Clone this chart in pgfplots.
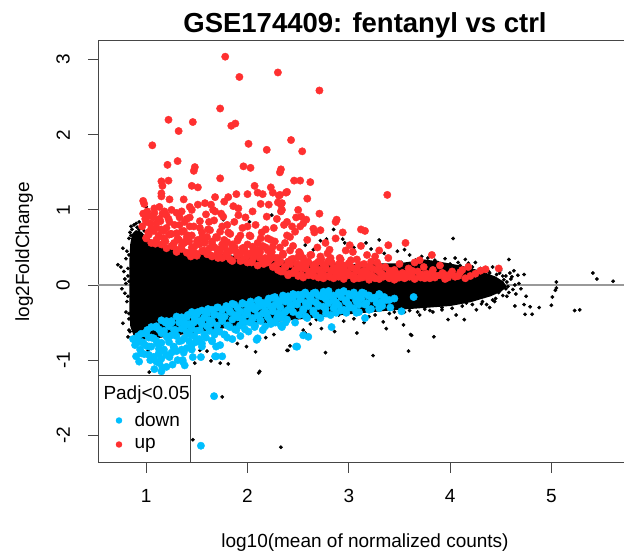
\documentclass[border=0pt]{standalone}
\usepackage{graphicx}
\usepackage{pgfplots}
\pgfplotsset{compat=1.18}
\usepackage{fontspec}
\setmainfont{Liberation Sans}
\definecolor{upred}{RGB}{255,48,48}
\definecolor{downblue}{RGB}{0,191,255}
\definecolor{frame}{RGB}{70,70,70}
\newcommand{\fnt}{\fontsize{19}{21}\selectfont}
\newcommand{\rt}[1]{\rotatebox{90}{#1}}
\begin{document}
\begin{tikzpicture}[x=1pt,y=1pt]
\useasboundingbox (0,0) rectangle (624,554);
\clip (0,0) rectangle (624,554);
\begin{axis}[
  at={(98pt,91pt)}, anchor=south west,
  scale only axis, width=534pt, height=422pt,
  xmin=0.524, xmax=5.796, ymin=-2.370, ymax=3.249,
  axis line style={draw=frame, line width=1pt},
  xtick={1,2,3,4,5}, xticklabels={1,2,3,4,5},
  ytick={-2,-1,0,1,2,3}, yticklabels={\rt{-2},\rt{-1},\rt{0},\rt{1},\rt{2},\rt{3}},
  xtick pos=bottom, ytick pos=left,
  tick align=outside, major tick length=10pt,
  tick style={draw=frame, line width=1pt},
  tick label style={font=\fnt},
  xticklabel style={anchor=base},
  xticklabel shift=30pt,
  yticklabel style={anchor=east, inner sep=0pt},
  yticklabel shift=18pt,
  legend cell align=left,
  legend style={at={(0,0)}, anchor=south west, draw=frame, line width=1pt, fill=white,
    inner xsep=1pt, inner ysep=4pt, row sep=1pt, font=\fnt,
    nodes={inner sep=0pt, text height=14pt, text depth=5pt},
    /tikz/every odd column/.append style={column sep=8pt}},
]
\addplot[forget plot, draw=black!40, line width=1.8pt] coordinates {(0.4,0) (6,0)};
% dense core of non-significant genes
\addplot[forget plot, fill=black, draw=black, line width=1.5pt, line join=round] coordinates {
(0.84,0.30) (0.85,0.55) (0.87,0.68) (0.90,0.72) (0.95,0.70) (1.00,0.62) (1.10,0.56) (1.30,0.48)
(1.60,0.42) (2.00,0.36) (2.50,0.30) (3.00,0.27) (3.50,0.28) (3.75,0.33) (3.90,0.30) (4.10,0.25)
(4.30,0.18) (4.45,0.10) (4.52,0.04) (4.55,-0.02)
(4.50,-0.08) (4.40,-0.14) (4.20,-0.22) (4.00,-0.27) (3.70,-0.30) (3.40,-0.33) (3.00,-0.38) (2.50,-0.45)
(2.00,-0.52) (1.60,-0.60) (1.30,-0.66) (1.10,-0.70) (0.95,-0.72) (0.88,-0.66) (0.85,-0.55) (0.84,-0.30)
} -- cycle;
% scattered non-significant genes
\addplot[forget plot, only marks, mark=*, mark size=1.7pt, mark options={draw=none, fill=black}] coordinates {
(0.72,0.27) (0.75,0.24) (0.77,0.49) (0.85,0.78) (0.80,0.35) (0.82,0.12) (0.79,-0.11) (0.80,0.02)
(0.80,-0.36) (0.77,-0.51) (0.82,-0.69) (0.83,0.62) (0.81,-0.22) (0.78,0.18) (0.83,-0.45) (0.84,0.70)
(0.76,-0.05) (0.81,0.45) (0.83,-0.60) (0.79,0.08)
(0.86,0.74) (0.88,0.80) (0.91,0.77) (0.93,0.84) (0.96,0.76) (0.98,0.72) (0.87,0.62) (0.85,0.66)
(0.83,0.40) (0.82,0.22) (0.83,0.05) (0.82,-0.15) (0.83,-0.38) (0.84,-0.62) (0.86,-0.72) (0.88,-0.76)
(0.90,0.82) (0.93,0.74)
(1.00,1.04) (1.76,0.87) (2.02,0.84) (2.24,0.93) (2.85,0.74) (2.94,0.61) (3.17,0.56) (4.03,0.62)
(2.78,0.61) (2.72,0.59) (2.57,0.53) (2.65,0.47) (3.05,0.50) (3.22,0.48) (3.35,0.42) (3.48,0.45)
(3.60,0.40) (3.72,0.38) (3.85,0.33) (3.95,0.35) (4.08,0.30) (4.15,0.34) (3.30,0.60) (3.55,0.47)
(2.96,0.56) (3.52,0.30) (3.66,0.33) (3.78,0.36) (3.88,0.30) (4.00,0.28) (4.10,0.26) (4.22,0.24)
(4.30,0.22) (4.38,0.18) (4.46,0.14) (4.55,0.12) (4.42,0.24) (4.05,0.36) (4.25,0.30)
(4.58,0.34) (4.59,0.16) (4.67,0.13) (4.73,0.14) (4.64,0.00) (5.05,0.04) (5.04,-0.07) (5.05,-0.04)
(5.41,0.16) (5.45,0.08) (5.61,0.05) (4.65,-0.12) (4.75,-0.15) (4.64,-0.28) (4.73,-0.26) (4.74,-0.39)
(4.81,-0.39) (4.79,-0.29) (4.88,-0.30) (5.00,-0.27) (5.01,-0.16) (5.23,-0.34) (5.28,-0.33) (4.39,-0.30)
(4.56,0.04) (4.51,0.00) (4.44,0.09) (4.39,0.16) (4.33,0.07) (4.48,-0.10) (4.55,-0.05) (4.60,0.08)
(4.52,0.12) (4.45,-0.18) (4.50,0.20) (4.62,-0.06) (4.35,-0.12) (4.42,0.05) (4.47,-0.03) (4.53,0.07)
(4.57,-0.02) (4.40,-0.08) (4.68,0.02) (4.70,-0.05) (4.61,0.11) (4.56,-0.15) (4.49,0.16) (4.31,-0.25)
(4.18,0.29) (4.44,-0.22) (4.63,0.19) (4.36,0.21)
(3.55,-0.36) (3.68,-0.36) (3.80,-0.34) (3.92,-0.33) (4.02,-0.31) (4.12,-0.28) (4.22,-0.26) (4.32,-0.22)
(4.42,-0.20) (4.52,-0.14) (4.58,-0.10) (4.36,-0.26) (4.06,-0.40) (4.26,-0.33) (3.98,-0.46)
(4.14,-0.46) (3.84,-0.69) (3.62,-0.67) (3.54,-0.53) (2.39,-0.87) (2.42,-0.81) (2.77,-0.90) (3.24,-0.94)
(3.59,-0.88) (3.08,-0.64) (3.37,-0.58) (3.61,-0.66) (3.70,-0.40) (3.83,-0.36) (3.92,-0.30) (4.16,-0.24)
(4.21,-0.20) (4.15,-0.13) (3.26,-0.40) (3.34,-0.49) (3.47,-0.44) (2.86,-0.62) (2.73,-0.58) (2.55,-0.60)
(2.57,-0.64) (1.75,-1.49) (2.33,-2.16) (2.11,-1.17) (1.81,-1.05) (1.73,-1.04) (1.64,-1.01) (1.99,-0.82)
(2.08,-0.89) (1.03,-1.16) (1.45,-0.95) (1.48,-1.04) (1.46,-2.06) (2.12,-1.15) (2.40,-0.87) (1.53,-0.87)
(1.23,-0.76) (1.28,-0.80) (1.02,-0.87) (1.07,-1.00) (2.95,-0.48) (3.05,-0.45) (3.15,-0.50) (2.62,-0.52)
(2.26,-0.66) (2.18,-0.70) (1.90,-0.78) (1.60,-0.88) (3.40,-0.38) (3.60,-0.34) (3.75,-0.32) (3.45,-0.36)
(3.20,-0.42) (2.90,-0.40) (2.68,-0.46)
};
\addlegendimage{empty legend}
\addlegendentry[text height=20pt, text depth=8pt]{\hspace{-31pt}Padj<0.05\hspace{5pt}}
% down-regulated
\addplot[only marks, mark=*, mark size=3.7pt, color=downblue, mark options={draw=none, fill=downblue},
  legend image code/.code={\path (-19pt,-3pt) (7pt,13pt); \fill[downblue] plot[mark=*, mark size=2.7pt, mark options={draw=none}] coordinates {(0pt,2pt)};}] coordinates {
(0.87,-0.72) (0.89,-0.80) (0.92,-0.68) (0.94,-0.86) (0.96,-0.76) (0.98,-0.92) (0.99,-0.64) (0.90,-0.95) (0.93,-1.02)
(1.01,-0.60) (1.03,-0.82) (1.05,-0.70) (1.07,-0.96) (1.09,-0.56) (1.11,-0.78) (1.13,-1.04) (1.15,-0.64)
(1.17,-0.88) (1.19,-0.50) (1.04,-1.00) (1.16,-1.10) (1.12,-0.92) (1.08,-1.12)
(1.21,-0.70) (1.23,-0.96) (1.25,-0.48) (1.27,-0.82) (1.29,-0.60) (1.31,-1.00) (1.33,-0.44) (1.35,-0.74)
(1.37,-0.90) (1.39,-0.54) (1.26,-1.06) (1.36,-1.02)
(1.41,-0.40) (1.43,-0.66) (1.45,-0.86) (1.47,-0.50) (1.49,-0.76) (1.51,-0.36) (1.53,-0.60) (1.55,-0.82)
(1.57,-0.44) (1.59,-0.70) (1.46,-0.96) (1.54,-0.96)
(1.61,-0.32) (1.63,-0.52) (1.65,-0.74) (1.67,-0.40) (1.69,-0.62) (1.71,-0.30) (1.73,-0.80) (1.75,-0.46)
(1.77,-0.66) (1.79,-0.28) (1.69,-0.95) (1.75,-0.95)
(1.81,-0.54) (1.83,-0.36) (1.85,-0.72) (1.87,-0.26) (1.89,-0.60) (1.91,-0.42) (1.93,-0.68) (1.95,-0.24)
(1.97,-0.50) (1.99,-0.34)
(2.01,-0.62) (2.03,-0.22) (2.05,-0.44) (2.07,-0.56) (2.09,-0.30) (2.11,-0.20) (2.13,-0.48) (2.15,-0.60)
(2.17,-0.26) (2.19,-0.38) (2.21,-0.18) (2.23,-0.52) (2.25,-0.32) (2.27,-0.16) (2.29,-0.44) (2.10,-0.71)
(2.31,-0.24) (2.33,-0.54) (2.35,-0.14) (2.37,-0.36) (2.39,-0.46) (2.41,-0.20) (2.43,-0.30) (2.45,-0.12)
(2.47,-0.50) (2.49,-0.26) (2.51,-0.40) (2.53,-0.16) (2.55,-0.32) (2.57,-0.10) (2.59,-0.44) (2.49,-0.82)
(2.55,-0.67) (2.60,-0.69) (2.34,-0.56)
(2.62,-0.22) (2.65,-0.36) (2.67,-0.10) (2.70,-0.28) (2.72,-0.44) (2.75,-0.16) (2.77,-0.32) (2.80,-0.08)
(2.82,-0.40) (2.85,-0.20) (2.87,-0.26) (2.90,-0.12) (2.92,-0.34) (2.95,-0.08) (2.97,-0.22) (2.83,-0.56)
(3.01,-0.30) (3.04,-0.12) (3.07,-0.20) (3.10,-0.36) (3.13,-0.10) (3.16,-0.26) (3.16,-0.44) (3.19,-0.14)
(3.22,-0.32) (3.26,-0.18) (3.30,-0.12) (3.33,-0.28) (3.37,-0.20) (3.41,-0.30) (3.45,-0.18) (3.52,-0.35)
(3.64,-0.16)
(1.67,-1.48) (1.54,-2.14) (1.15,-1.15) (1.20,-1.09) (1.36,-1.00) (1.38,-1.07) (1.68,-0.95) (1.69,-0.82)
(2.09,-0.73) (2.48,-0.82)
(0.90,-0.72) (0.95,-0.65) (1.00,-0.65) (1.05,-0.56) (1.10,-0.55) (1.15,-0.47) (1.20,-0.48) (1.25,-0.50)
(1.30,-0.42) (1.35,-0.43) (1.40,-0.43) (1.45,-0.36) (1.50,-0.39) (1.55,-0.34) (1.60,-0.38) (1.65,-0.33)
(1.70,-0.30) (1.75,-0.33) (1.80,-0.30) (1.85,-0.25) (1.90,-0.30) (1.95,-0.25) (2.00,-0.26) (2.05,-0.28)
(2.10,-0.21) (2.15,-0.24) (2.20,-0.21) (2.25,-0.17) (2.30,-0.21) (2.35,-0.18) (2.40,-0.15) (2.45,-0.17)
(2.50,-0.13)
(0.925,-0.76) (0.975,-0.78) (1.025,-0.70) (1.075,-0.71) (1.125,-0.59) (1.175,-0.61) (1.225,-0.55)
(1.275,-0.60) (1.325,-0.50) (1.375,-0.51) (1.425,-0.52) (1.475,-0.43) (1.525,-0.48) (1.575,-0.43)
(1.625,-0.47) (1.675,-0.39) (1.725,-0.41) (1.775,-0.42) (1.825,-0.34) (1.875,-0.40) (1.925,-0.35)
(1.975,-0.40) (2.025,-0.31) (2.075,-0.33) (2.125,-0.28) (2.175,-0.34) (2.225,-0.28) (2.275,-0.26)
(2.325,-0.30) (2.375,-0.22) (2.425,-0.27) (2.475,-0.24)
(0.95,-0.91) (1.00,-0.81) (1.05,-0.82) (1.10,-0.74) (1.15,-0.77) (1.20,-0.68) (1.25,-0.67) (1.30,-0.68)
(1.35,-0.58) (1.40,-0.63) (1.45,-0.58) (1.50,-0.61) (1.55,-0.52) (1.60,-0.55) (1.65,-0.49) (1.70,-0.54)
(1.75,-0.48) (1.80,-0.54) (1.85,-0.46) (1.90,-0.43) (1.95,-0.47) (2.00,-0.39) (2.05,-0.45) (2.10,-0.41)
(2.15,-0.38) (2.20,-0.43) (2.25,-0.35) (2.30,-0.38) (2.35,-0.39) (2.40,-0.33) (2.45,-0.36)
(1.025,-0.93) (1.075,-0.96) (1.125,-0.85) (1.175,-0.86) (1.225,-0.76) (1.275,-0.83) (1.325,-0.75)
(1.375,-0.71) (1.425,-0.75) (1.475,-0.68) (1.525,-0.72) (1.575,-0.66) (1.625,-0.61) (1.675,-0.66)
(1.725,-0.62) (1.775,-0.66) (1.825,-0.56) (1.875,-0.59) (1.925,-0.54) (1.975,-0.59) (2.025,-0.50)
(2.075,-0.54) (2.125,-0.47) (2.175,-0.55) (2.225,-0.48) (2.275,-0.50) (2.325,-0.44) (2.375,-0.50)
(1.10,-1.02) (1.15,-0.98) (1.20,-0.93) (1.25,-0.90) (1.30,-0.88) (1.35,-0.86) (1.40,-0.84) (1.45,-0.80)
(1.55,-0.78) (1.65,-0.75) (1.80,-0.70)
(2.55,-0.12) (2.60,-0.14) (2.65,-0.11) (2.70,-0.14) (2.75,-0.09) (2.80,-0.11) (2.85,-0.14) (2.90,-0.10)
(2.95,-0.09) (3.00,-0.12) (3.05,-0.10) (3.10,-0.14) (3.15,-0.11) (3.20,-0.14) (3.25,-0.17) (3.30,-0.13)
(3.35,-0.16) (3.40,-0.20)
(2.525,-0.19) (2.575,-0.24) (2.625,-0.18) (2.675,-0.23) (2.725,-0.15) (2.775,-0.19) (2.825,-0.15)
(2.875,-0.23) (2.925,-0.16) (2.975,-0.20) (3.025,-0.14) (3.075,-0.22) (3.125,-0.18) (3.175,-0.24)
(3.225,-0.18) (3.275,-0.24) (3.325,-0.22)
(2.55,-0.34) (2.60,-0.28) (2.65,-0.34) (2.70,-0.27) (2.75,-0.29) (2.80,-0.24) (2.85,-0.31) (2.90,-0.27)
(2.95,-0.33) (3.00,-0.26) (3.05,-0.31) (3.10,-0.26) (3.20,-0.33) (3.30,-0.31)
(2.575,-0.42) (2.675,-0.40) (2.775,-0.38) (2.875,-0.37) (2.975,-0.37) (3.075,-0.37)
};
\addlegendentry{down}
% up-regulated
\addplot[only marks, mark=*, mark size=3.7pt, color=upred, mark options={draw=none, fill=upred},
  legend image code/.code={\path (-19pt,-3pt) (7pt,13pt); \fill[upred] plot[mark=*, mark size=2.7pt, mark options={draw=none}] coordinates {(0pt,2pt)};}] coordinates {
(1.78,3.04) (1.92,2.77) (2.30,2.83) (2.71,2.59) (1.73,2.35) (1.22,2.20) (1.46,2.17) (1.32,2.05)
(1.84,2.12) (1.88,2.15) (1.06,1.86) (2.01,1.88) (2.19,1.80) (2.43,1.93) (2.54,1.78) (1.21,1.60)
(1.31,1.65) (1.48,1.57) (1.47,1.52) (1.96,1.58) (2.03,1.56) (2.33,1.54) (2.32,1.50) (1.73,1.42)
(2.46,1.39) (2.52,1.39) (2.62,1.37) (1.15,1.38) (1.22,1.39) (1.16,1.32) (1.45,1.32) (1.51,1.30)
(2.07,1.32) (1.15,1.22) (1.15,1.18) (1.23,1.14) (1.37,1.14) (1.68,1.17) (1.81,1.17) (1.77,1.11)
(1.89,1.21) (2.00,1.21) (2.10,1.23) (2.15,1.21) (2.23,1.30) (2.25,1.23) (2.31,1.19) (2.38,1.23)
(2.59,1.15) (0.97,1.12) (0.98,1.08) (2.30,1.10) (2.33,1.07) (2.21,1.07) (1.51,1.07) (1.58,1.09)
(1.64,1.07) (1.43,1.04) (1.91,1.02) (2.71,0.95) (1.01,0.98) (1.08,0.96) (1.18,0.98) (1.30,0.96)
(1.35,0.98) (1.45,1.00) (1.68,0.98) (1.76,0.91) (1.91,0.93) (2.19,0.91) (2.33,0.98) (2.50,1.00)
(2.53,0.91) (2.88,0.87)
(2.39,1.24) (2.32,1.20) (2.34,1.09) (2.34,1.00) (3.38,1.20) (2.58,0.87) (2.55,0.82) (2.52,0.78)
(2.87,0.84) (2.39,0.84) (2.44,0.78) (2.47,0.71) (2.42,0.64) (2.37,0.56) (2.65,0.75) (2.72,0.73)
(3.12,0.74) (3.16,0.72) (2.77,0.56) (2.81,0.47) (3.01,0.53) (3.04,0.44) (3.39,0.53) (3.56,0.56)
(3.82,0.40) (3.70,0.33) (3.26,0.38) (4.18,0.24) (4.20,0.12) (3.90,0.13) (4.35,0.21) (4.48,0.22)
(0.96,0.78) (0.99,0.88) (1.02,0.70) (0.97,0.95) (1.04,0.82) (1.00,0.62)
(1.07,0.90) (1.10,0.76) (1.12,0.64) (1.14,0.85) (1.17,0.72) (1.19,0.58) (1.09,0.55) (1.16,0.95) (1.13,1.04)
(1.22,0.88) (1.24,0.68) (1.26,0.52) (1.28,0.80) (1.31,0.62) (1.33,0.90) (1.35,0.48) (1.37,0.72)
(1.39,0.58) (1.25,1.00) (1.38,0.84) (1.30,0.44)
(1.41,0.66) (1.43,0.90) (1.45,0.50) (1.47,0.78) (1.49,0.42) (1.51,0.60) (1.53,0.85) (1.55,0.70)
(1.57,0.46) (1.59,0.94) (1.44,0.38) (1.58,0.58)
(1.61,0.74) (1.63,0.40) (1.65,0.55) (1.67,0.86) (1.69,0.64) (1.71,0.36) (1.73,0.48) (1.75,0.78)
(1.77,0.60) (1.79,0.42) (1.66,1.00) (1.74,0.95)
(1.81,0.70) (1.83,0.34) (1.85,0.52) (1.87,0.84) (1.89,0.44) (1.91,0.62) (1.93,0.32) (1.95,0.76)
(1.97,0.50) (1.99,0.38) (1.86,1.05) (1.98,0.90)
(2.02,0.66) (2.04,0.30) (2.06,0.46) (2.08,0.80) (2.10,0.56) (2.12,0.36) (2.14,0.70) (2.16,0.28)
(2.18,0.50) (2.20,0.62) (2.22,0.34) (2.24,0.44) (2.26,0.76) (2.28,0.26) (2.05,0.98) (2.13,1.08)
(2.27,0.58) (2.29,0.88)
(2.31,0.30) (2.33,0.18) (2.35,0.42) (2.37,0.24) (2.39,0.66) (2.41,0.15) (2.43,0.34) (2.45,0.52)
(2.47,0.20) (2.49,0.28) (2.51,0.44) (2.53,0.14) (2.55,0.36) (2.57,0.22) (2.59,0.60) (2.36,0.80)
(2.48,0.90) (2.58,0.30)
(2.61,0.18) (2.63,0.40) (2.65,0.12) (2.67,0.28) (2.69,0.50) (2.71,0.20) (2.73,0.34) (2.75,0.14)
(2.77,0.24) (2.79,0.42) (2.81,0.11) (2.83,0.30) (2.85,0.18) (2.87,0.62) (2.89,0.22) (2.91,0.36)
(2.93,0.13) (2.95,0.26) (2.97,0.46) (2.99,0.16) (2.66,0.70) (2.94,0.70)
(3.02,0.24) (3.05,0.12) (3.08,0.34) (3.10,0.18) (3.13,0.10) (3.15,0.28) (3.18,0.40) (3.20,0.14)
(3.23,0.22) (3.26,0.09) (3.28,0.30) (3.31,0.17) (3.34,0.11) (3.36,0.24) (3.39,0.36) (3.42,0.13)
(3.45,0.20) (3.47,0.09) (3.50,0.28) (3.12,0.52) (3.30,0.46)
(3.53,0.16) (3.56,0.10) (3.59,0.22) (3.62,0.13) (3.65,0.30) (3.68,0.18) (3.71,0.10) (3.74,0.24)
(3.77,0.15) (3.80,0.09) (3.83,0.20) (3.86,0.12) (3.90,0.26) (3.94,0.14) (3.98,0.10) (4.02,0.18)
(4.08,0.12) (4.12,0.20) (4.25,0.15) (4.30,0.19)
(1.00,0.63) (1.05,0.56) (1.10,0.60) (1.15,0.54) (1.20,0.49) (1.25,0.52) (1.30,0.47) (1.35,0.52)
(1.40,0.43) (1.45,0.45) (1.50,0.39) (1.55,0.45) (1.60,0.41) (1.65,0.38) (1.70,0.42) (1.75,0.36)
(1.80,0.38) (1.85,0.32) (1.90,0.39) (1.95,0.33) (2.00,0.30) (2.05,0.34) (2.10,0.26) (2.15,0.30)
(2.20,0.30) (2.25,0.24)
(1.025,0.67) (1.075,0.72) (1.125,0.66) (1.175,0.62) (1.225,0.67) (1.275,0.56) (1.325,0.60) (1.375,0.56)
(1.425,0.58) (1.475,0.51) (1.525,0.54) (1.575,0.56) (1.625,0.49) (1.675,0.50) (1.725,0.44) (1.775,0.50)
(1.825,0.45) (1.875,0.50) (1.925,0.41) (1.975,0.45) (2.025,0.42) (2.075,0.39) (2.125,0.44) (2.175,0.36)
(2.225,0.39) (2.275,0.36)
(1.00,0.84) (1.05,0.75) (1.10,0.82) (1.15,0.74) (1.20,0.76) (1.25,0.68) (1.30,0.69) (1.35,0.71)
(1.40,0.64) (1.45,0.66) (1.50,0.58) (1.55,0.63) (1.60,0.64) (1.65,0.58) (1.70,0.63) (1.75,0.54)
(1.80,0.57) (1.85,0.54) (1.90,0.59) (1.95,0.49) (2.00,0.54) (2.05,0.51) (2.10,0.47) (2.15,0.52)
(2.20,0.46) (2.25,0.51)
(1.03,0.92) (1.13,0.88) (1.23,0.84) (1.33,0.80) (1.43,0.78) (1.53,0.76) (1.63,0.73) (1.73,0.71)
(1.83,0.68) (1.93,0.66) (2.03,0.65) (2.13,0.62) (2.23,0.60)
(1.08,1.02) (1.20,0.93) (1.40,0.88) (1.62,0.84) (1.80,0.80) (2.00,0.78) (2.18,0.74)
(2.30,0.20) (2.35,0.18) (2.40,0.13) (2.45,0.16) (2.50,0.12) (2.55,0.10) (2.60,0.13) (2.65,0.14)
(2.70,0.10) (2.75,0.09) (2.80,0.12) (2.85,0.09) (2.90,0.11) (2.95,0.08) (3.00,0.13) (3.05,0.08)
(3.10,0.09) (3.15,0.11) (3.20,0.07) (3.25,0.10) (3.30,0.08) (3.35,0.12) (3.40,0.09) (3.45,0.07)
(3.50,0.10)
(2.325,0.31) (2.375,0.24) (2.425,0.28) (2.475,0.20) (2.525,0.23) (2.575,0.26) (2.625,0.18) (2.675,0.21)
(2.725,0.16) (2.775,0.22) (2.825,0.18) (2.875,0.15) (2.925,0.20) (2.975,0.18) (3.025,0.13) (3.075,0.20)
(3.125,0.15) (3.175,0.17) (3.225,0.13) (3.275,0.20) (3.325,0.15) (3.375,0.12) (3.425,0.16) (3.475,0.15)
(2.30,0.36) (2.35,0.40) (2.40,0.31) (2.45,0.35) (2.50,0.37) (2.55,0.29) (2.60,0.31) (2.65,0.25)
(2.70,0.31) (2.75,0.27) (2.80,0.32) (2.85,0.23) (2.90,0.28) (2.95,0.24) (3.00,0.29) (3.05,0.22)
(3.10,0.27) (3.15,0.19) (3.20,0.24) (3.30,0.25) (3.40,0.19)
(2.32,0.50) (2.42,0.46) (2.52,0.42) (2.62,0.40) (2.72,0.38) (2.82,0.36) (2.92,0.34) (3.02,0.33) (3.22,0.31)
(3.55,0.09) (3.60,0.11) (3.65,0.08) (3.70,0.12) (3.75,0.09) (3.85,0.10) (3.95,0.08) (4.05,0.11) (4.15,0.09)
(3.575,0.15) (3.625,0.19) (3.725,0.14) (3.825,0.17) (3.925,0.16) (4.00,0.14) (4.10,0.17)
};
\addlegendentry[text depth=10pt]{up}
\end{axis}
\node[anchor=base, font=\fontsize{27.5}{30}\selectfont\bfseries] at (365,521) {GSE174409: fentanyl vs ctrl};
\node[anchor=base, font=\fnt] at (365,6) {log10(mean of normalized counts)};
\node[anchor=base, rotate=90, font=\fnt] at (29,302) {log2FoldChange};
\end{tikzpicture}
\end{document}
